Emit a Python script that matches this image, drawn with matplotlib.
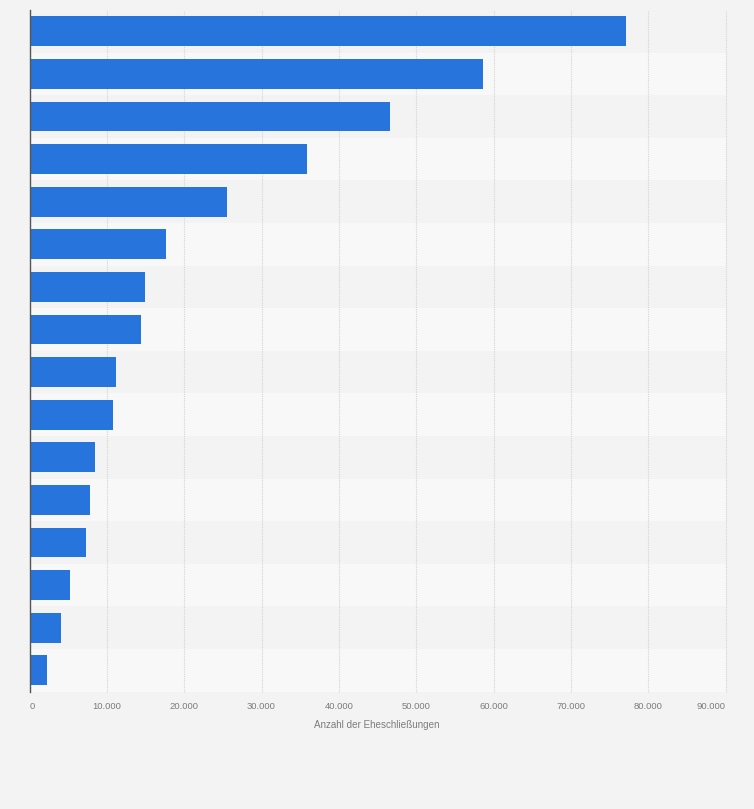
import matplotlib
matplotlib.use("Agg")
from matplotlib import pyplot as plt

# values, top bar first
values = [77150, 58680, 46630, 35880, 25600, 17600, 14900, 14440,
          11200, 10800, 8420, 7840, 7320, 5250, 4080, 2270]
xticks = [0, 10000, 20000, 30000, 40000, 50000, 60000, 70000, 80000, 90000]
xticklabels = ["0", "10.000", "20.000", "30.000", "40.000", "50.000",
               "60.000", "70.000", "80.000", "90.000"]
xlabel = "Anzahl der Eheschließungen"

BG = "#f3f3f3"
BAND = "#f8f8f8"
BLUE = "#2775dc"
GREY = "#7c7c7c"

plt.rcParams["font.family"] = ["Liberation Sans", "DejaVu Sans"]

fig = plt.figure(figsize=(7.54, 8.09), dpi=100, facecolor=BG)
ax = fig.add_axes([29.5 / 754, 1 - 691.5 / 809, 696 / 754, 681.5 / 809], facecolor=BG)

n = len(values)
rows = list(range(n))

# every second row has a lighter band
for i in rows:
    if i % 2 == 1:
        ax.axhspan(i - 0.5, i + 0.5, color=BAND, lw=0, zorder=0)

ax.barh(rows, values, height=0.7, color=BLUE, zorder=3)

ax.set_xlim(0, 90000)
ax.set_ylim(n - 0.5, -0.5)
ax.set_yticks([])
ax.set_xticks(xticks)
ax.set_xticklabels(xticklabels, fontsize=6.8, color=GREY)
ax.tick_params(axis="x", length=0, pad=7.7)
ax.get_xticklabels()[0].set_ha("left")
ax.get_xticklabels()[-1].set_ha("right")

ax.grid(axis="x", color="#d4d4d4", linestyle=(0, (1, 1)), linewidth=0.8, zorder=1)
ax.set_axisbelow(True)
# last gridline sits on the axes edge
for line in ax.get_xgridlines():
    line.set_clip_on(False)

for s in ["top", "right", "bottom"]:
    ax.spines[s].set_visible(False)
ax.spines["left"].set_color("#555555")
ax.spines["left"].set_linewidth(1.0)
ax.spines["left"].set_zorder(5)

fig.text(377 / 754, 1 - 724.5 / 809, xlabel, fontsize=7.1, color=GREY,
         ha="center", va="center")

plt.savefig("out.png", dpi=100, facecolor=BG)
